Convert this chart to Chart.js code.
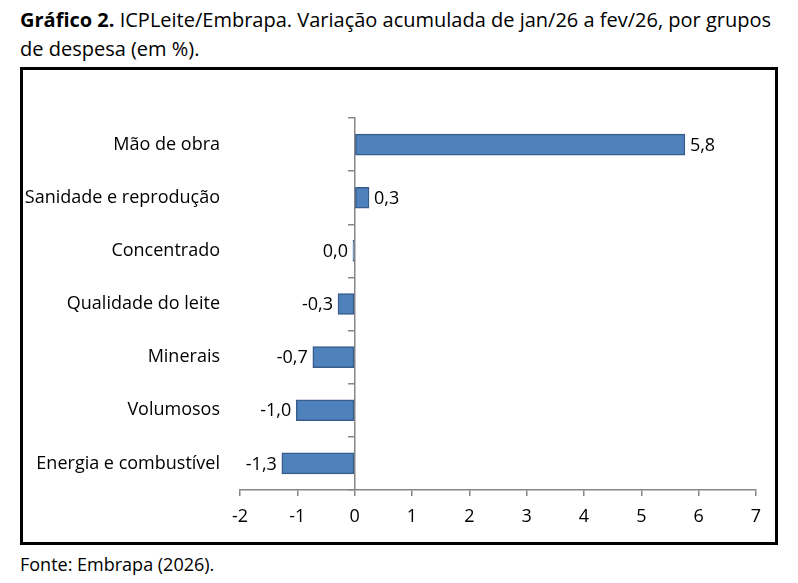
<!DOCTYPE html>
<html>
<head>
<meta charset="utf-8">
<script src="https://cdn.jsdelivr.net/npm/chart.js@4"></script>
<style>
  body { margin: 0; background: #fff; font-family: "Open Sans", Lato, sans-serif; color: #000; }
  #titulo { position: absolute; left: 20px; top: 5px; width: 756px; font-size: 20px; line-height: 29px; }
  #caixa { position: absolute; left: 20px; top: 67px; width: 758px; height: 478px; border: 3px solid #000; box-sizing: border-box; }
  #caixa canvas { position: absolute; left: 0; top: 0; }
  #fonte { position: absolute; left: 20px; top: 552px; font-size: 18px; }
</style>
</head>
<body>
<div id="titulo"><b>Gráfico 2.</b> ICPLeite/Embrapa. Variação acumulada de jan/26 a fev/26, por grupos de despesa (em %).</div>
<div id="caixa"><canvas id="grafico" width="752" height="472"></canvas></div>
<div id="fonte">Fonte: Embrapa (2026).</div>
<script>
// Dados do gráfico
const grupos = ['Mão de obra', 'Sanidade e reprodução', 'Concentrado', 'Qualidade do leite', 'Minerais', 'Volumosos', 'Energia e combustível'];
const variacao = [5.76, 0.25, -0.03, -0.29, -0.73, -1.02, -1.27];
const eixoX = { min: -2, max: 7, passo: 1 };

const corEixo = '#868686';
const fonte = { family: '"Open Sans", Lato, sans-serif', size: 18 };

function formata(v) {
    if (Math.abs(v) < 0.05) return '0,0';
    return v.toFixed(1).replace('.', ',');
}

// rótulos de valor ao lado das barras
const rotulos = {
    id: 'rotulos',
    afterDatasetsDraw(chart) {
        const ctx = chart.ctx;
        const meta = chart.getDatasetMeta(0);
        ctx.save();
        ctx.font = fonte.size + 'px ' + fonte.family;
        ctx.fillStyle = '#000';
        ctx.textBaseline = 'middle';
        meta.data.forEach((bar, i) => {
            const v = variacao[i];
            if (v >= 0) {
                ctx.textAlign = 'left';
                ctx.fillText(formata(v), bar.x + 5, bar.y + 1);
            } else {
                ctx.textAlign = 'right';
                ctx.fillText(formata(v), bar.x - 5, bar.y + 1);
            }
        });
        ctx.restore();
    }
};

new Chart(document.getElementById('grafico'), {
    type: 'bar',
    data: {
        labels: grupos,
        datasets: [{
            data: variacao,
            backgroundColor: '#4F81BD',
            borderColor: '#385D8A',
            borderWidth: 1.5,
            borderSkipped: false,
            barThickness: 21
        }]
    },
    options: {
        indexAxis: 'y',
        responsive: false,
        animation: false,
        layout: { padding: { top: 48, right: 19, left: 0, bottom: 0 } },
        plugins: { legend: { display: false }, tooltip: { enabled: false } },
        scales: {
            x: {
                min: eixoX.min,
                max: eixoX.max,
                ticks: { stepSize: eixoX.passo, color: '#000', font: fonte, padding: 10 },
                grid: { drawOnChartArea: false, drawTicks: true, tickLength: 6, color: corEixo, lineWidth: 1.5 },
                border: { display: true, color: corEixo, width: 1.5 },
                afterFit(s) { s.height = 52; }
            },
            y: {
                position: 'left',
                offset: true,
                ticks: { color: '#000', font: fonte, padding: 20 },
                grid: { display: false, drawTicks: false },
                border: { display: false },
                afterFit(s) { s.width = 217; }
            },
            zero: {
                type: 'category',
                axis: 'y',
                labels: grupos,
                position: { x: 0 },
                offset: true,
                ticks: { display: false },
                grid: { offset: true, drawOnChartArea: false, drawTicks: true, tickLength: 6, color: corEixo, lineWidth: 1.5 },
                border: { display: true, color: corEixo, width: 1.5 }
            }
        }
    },
    plugins: [rotulos]
});
</script>
</body>
</html>
